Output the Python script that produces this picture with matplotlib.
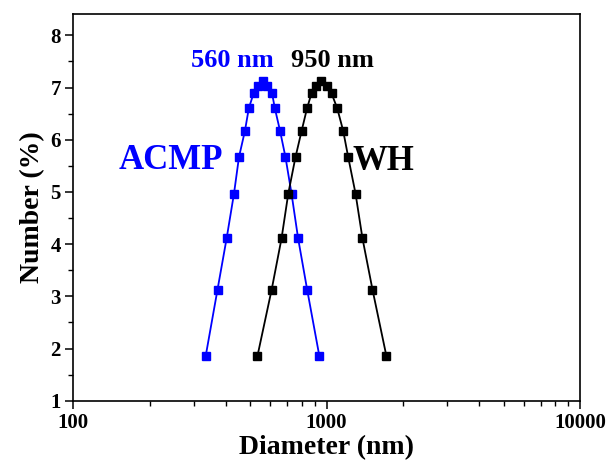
import numpy as np
import matplotlib.pyplot as plt
from matplotlib.ticker import MultipleLocator, LogLocator, NullFormatter

# size distribution data (diameter in nm, number in %)
acmp_d = [333, 371, 403, 431, 451, 476, 493, 515, 537, 560,
          584, 609, 625, 655, 688, 727, 772, 838, 937]
acmp_n = [1.85, 3.13, 4.11, 4.97, 5.67, 6.17, 6.60, 6.89, 7.03, 7.12,
          7.03, 6.89, 6.60, 6.17, 5.67, 4.97, 4.11, 3.13, 1.85]

wh_d = [533, 607, 664, 706, 754, 797, 837, 872, 905, 950,
        1000, 1046, 1102, 1163, 1217, 1301, 1386, 1518, 1724]
wh_n = [1.85, 3.13, 4.11, 4.97, 5.67, 6.17, 6.60, 6.89, 7.03, 7.12,
        7.03, 6.89, 6.60, 6.17, 5.67, 4.97, 4.11, 3.13, 1.85]

acmp_peak = 560
wh_peak = 950

plt.rcParams['font.family'] = 'Liberation Serif'
plt.rcParams['font.weight'] = 'bold'

fig = plt.figure(figsize=(6.11, 4.66), dpi=100)
ax = fig.add_axes([0.120, 0.140, 0.829, 0.829])

ax.plot(acmp_d, acmp_n, color='#0000ff', lw=1.3, marker='s', ms=5.2,
        mec='#0000ff', mfc='#0000ff')
ax.plot(wh_d, wh_n, color='black', lw=1.3, marker='s', ms=5.2,
        mec='black', mfc='black')

ax.set_xscale('log')
ax.set_xlim(100, 10000)
ax.set_ylim(1, 8.4)

ax.xaxis.set_minor_locator(LogLocator(base=10, subs=np.arange(2, 10), numticks=20))
ax.xaxis.set_minor_formatter(NullFormatter())
ax.set_xticks([100, 1000, 10000])
ax.set_xticklabels(['100', '1000', '10000'])
ax.yaxis.set_major_locator(MultipleLocator(1))
ax.yaxis.set_minor_locator(MultipleLocator(0.5))

ax.tick_params(which='major', direction='out', length=6, width=1.1,
               labelsize=15, pad=3)
ax.tick_params(which='minor', direction='out', length=3.5, width=1.0)
ax.tick_params(top=False, right=False, which='both')
for s in ax.spines.values():
    s.set_linewidth(1.2)

ax.set_xlabel('Diameter (nm)', fontsize=20, fontweight='bold', labelpad=1)
ax.set_ylabel('Number (%)', fontsize=20, fontweight='bold', labelpad=4)

# peak labels and sample names
ax.text(423, 7.51, f'{acmp_peak} nm', color='#0000ff', fontsize=19,
        fontweight='bold', ha='center', va='center')
ax.text(1053, 7.51, f'{wh_peak} nm', color='black', fontsize=19,
        fontweight='bold', ha='center', va='center')
ax.text(243, 5.61, 'ACMP', color='#0000ff', fontsize=25,
        fontweight='bold', ha='center', va='center')
ax.text(1681, 5.58, 'WH', color='black', fontsize=25,
        fontweight='bold', ha='center', va='center')

fig.savefig('out.png', dpi=100)
